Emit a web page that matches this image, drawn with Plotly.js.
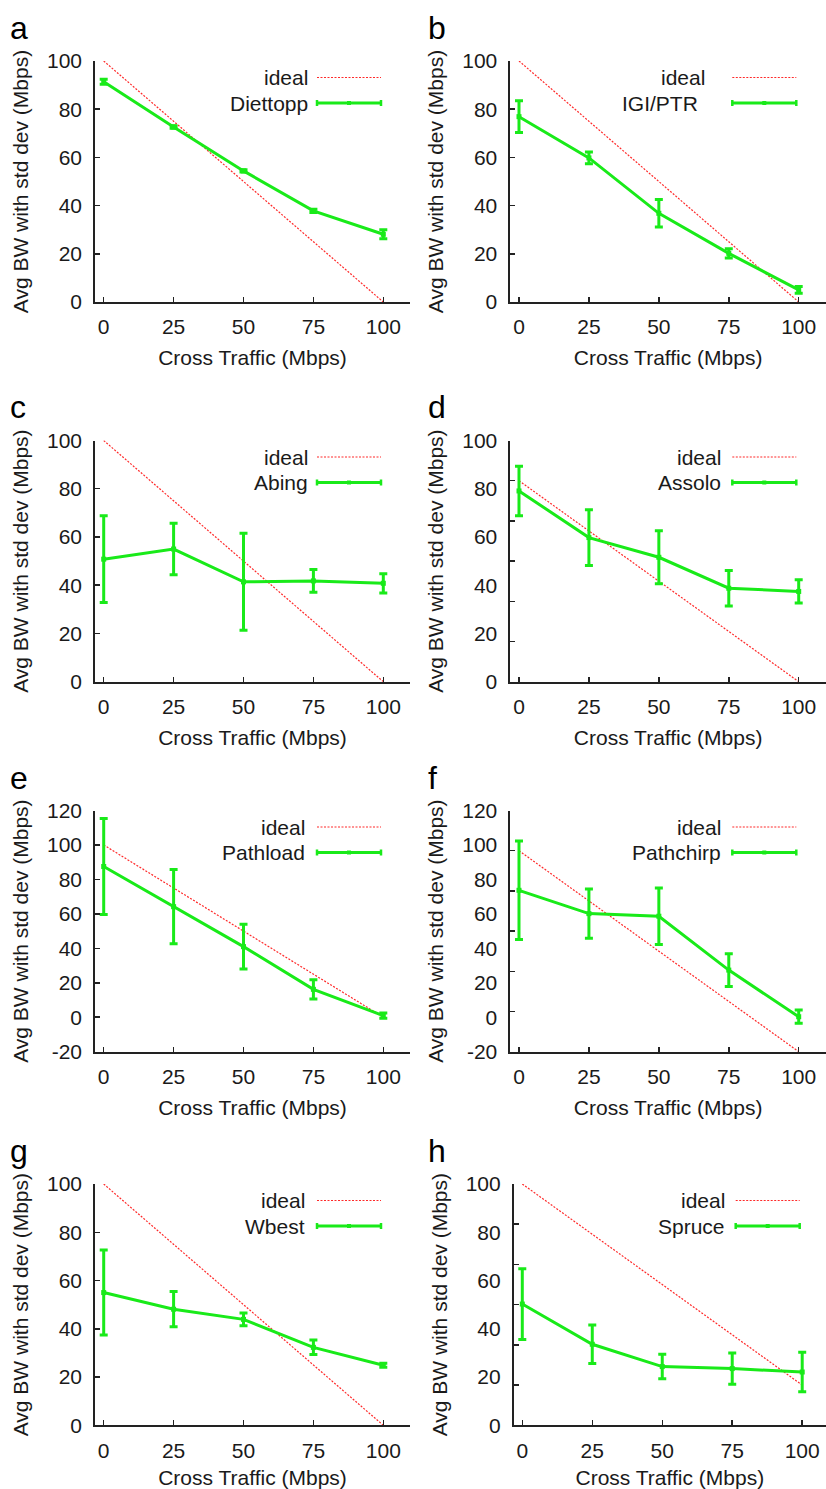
<!DOCTYPE html>
<html><head><meta charset="utf-8">
<script src="https://cdn.plot.ly/plotly-3.0.1.min.js"></script>
<style>html,body{margin:0;padding:0;background:#fff}#chart{width:826px;height:1489px}</style>
</head><body><div id="chart"></div>
<script>
// ---------------- data ----------------
const crossTraffic = [0, 25, 50, 75, 100];
const idealX = [0, 100];
const idealY = [100, 0];

const panelLetters = ['a', 'b', 'c', 'd', 'e', 'f', 'g', 'h'];
const toolNames = ['Diettopp', 'IGI/PTR', 'Abing', 'Assolo', 'Pathload', 'Pathchirp', 'Wbest', 'Spruce'];

const diettoppAvg = [91.4, 72.6, 54.4, 37.8, 28.1];
const diettoppStd = [1.0, 0.5, 0.5, 0.7, 1.9];
const igiptrAvg = [76.9, 59.8, 36.8, 20.2, 5.0];
const igiptrStd = [6.6, 2.4, 5.7, 1.9, 1.4];
const abingAvg = [50.8, 55.0, 41.4, 41.8, 40.8];
const abingStd = [18.0, 10.7, 20.1, 4.7, 4.0];
const assoloAvg = [94.9, 71.7, 61.9, 46.5, 44.9];
const assoloStd = [12.3, 13.9, 13.2, 8.8, 5.8];
const pathloadAvg = [87.5, 64.2, 41.0, 16.2, 0.9];
const pathloadStd = [27.8, 21.6, 13.0, 5.6, 1.5];
const pathchirpAvg = [80.3, 68.7, 67.4, 40.6, 17.4];
const pathchirpStd = [24.5, 12.3, 14.1, 8.1, 3.3];
const wbestAvg = [55.0, 48.1, 43.9, 32.3, 24.9];
const wbestStd = [17.6, 7.3, 2.6, 3.0, 0.8];
const spruceAvg = [40.3, 20.3, 9.2, 8.2, 6.5];
const spruceStd = [17.6, 9.6, 6.1, 7.8, 9.8];

const avgSeries = [diettoppAvg, igiptrAvg, abingAvg, assoloAvg, pathloadAvg, pathchirpAvg, wbestAvg, spruceAvg];
const stdSeries = [diettoppStd, igiptrStd, abingStd, assoloStd, pathloadStd, pathchirpStd, wbestStd, spruceStd];

// tick marks on the plotting axis
const yTicks0to100 = [0, 20, 40, 60, 80, 100];
const yTicks0to120 = [0, 20, 40, 60, 80, 100, 120];
const yTicksM20to100 = [-20, 0, 20, 40, 60, 80, 100];
const yTicksM20to120 = [-20, 0, 20, 40, 60, 80, 100, 120];
// printed tick labels
const yLabels0to100 = ['0', '20', '40', '60', '80', '100'];
const yLabelsM20to120 = ['-20', '0', '20', '40', '60', '80', '100', '120'];
const xTickLabels = ['0', '25', '50', '75', '100'];

const xTitle = 'Cross Traffic (Mbps)';
const yTitle = 'Avg BW with std dev (Mbps)';
const idealName = 'ideal';

// ---------------- layout config ----------------
const W = 826, H = 1489;
const FONT = '"Liberation Sans", Arial, Helvetica, sans-serif';
const FS = 21;
const TXT = '#1a1a1a';
const AX = '#222222';
const GREEN = '#19ea19';
const RED = '#ff2a2a';

const rowsPx = [[61, 302], [440.5, 681.7], [810.5, 1051.7], [1184, 1425.3]];
const colsPx = [[95, 410], [510.3, 826]];
const xRanges = [[-3.11, 109.55], [-3.11, 109.76]];

// per panel: plot-axis range, tick marks, label-axis range, label values/texts
const panelAxes = [
  {range: [0, 100], marks: yTicks0to100, lrange: [0, 100], lvals: yTicks0to100, ltext: yLabels0to100},
  {range: [0, 100], marks: yTicks0to100, lrange: [0, 100], lvals: yTicks0to100, ltext: yLabels0to100},
  {range: [0, 100], marks: yTicks0to100, lrange: [0, 100], lvals: yTicks0to100, ltext: yLabels0to100},
  {range: [0, 120], marks: yTicks0to120, lrange: [0, 100], lvals: yTicks0to100, ltext: yLabels0to100},
  {range: [-20, 120], marks: yTicksM20to120, lrange: [-20, 120], lvals: yTicksM20to120, ltext: yLabelsM20to120},
  {range: [0, 120], marks: yTicks0to120, lrange: [-20, 120], lvals: yTicksM20to120, ltext: yLabelsM20to120},
  {range: [0, 100], marks: yTicks0to100, lrange: [0, 100], lvals: yTicks0to100, ltext: yLabels0to100},
  {range: [-20, 100], marks: yTicksM20to100, lrange: [0, 100], lvals: yTicks0to100, ltext: yLabels0to100}
];
// legend text right edge (px from plot left) for [ideal, tool]
const keyTextRight = [[215, 215], [197, 190], [215, 215], [213, 213], [212, 212], [213, 213], [212, 212], [213, 213]];

const traces = [];
const layout = {
  width: W, height: H,
  margin: {l: 0, r: 0, t: 0, b: 0},
  paper_bgcolor: '#fff', plot_bgcolor: '#fff',
  showlegend: false,
  font: {family: FONT, size: FS, color: TXT},
  shapes: [], annotations: []
};

for (let i = 0; i < 8; i++) {
  const n = i + 1, ln = i + 9;
  const col = i % 2, row = Math.floor(i / 2);
  let [x0, x1] = colsPx[col];
  let xr = xRanges[col].slice();
  if (i === 7) { x0 = 513.7; xr = [-3.07, 108.5]; }
  const [y0, y1] = rowsPx[row];
  const pw = x1 - x0, ph = y1 - y0;
  const xd = [x0 / W, Math.min(1, x1 / W)];
  const yd = [1 - y1 / H, 1 - y0 / H];
  const pa = panelAxes[i];

  layout['xaxis' + n] = {
    domain: xd, range: xr, anchor: 'y' + n,
    tickvals: crossTraffic, ticktext: xTickLabels,
    ticks: 'inside', ticklen: 5, tickwidth: 1.5, tickcolor: AX,
    showline: true, linecolor: AX, linewidth: 2,
    showgrid: false, zeroline: false, fixedrange: true,
    tickfont: {size: FS, color: TXT}, ticklabelstandoff: 5,
    title: {text: xTitle, font: {size: FS, color: TXT}, standoff: 13}
  };
  layout['yaxis' + n] = {
    domain: yd, range: pa.range, anchor: 'x' + n,
    tickvals: pa.marks, showticklabels: false,
    ticks: 'inside', ticklen: 5, tickwidth: 1.5, tickcolor: AX,
    showline: true, linecolor: AX, linewidth: 2,
    showgrid: false, zeroline: false, fixedrange: true
  };
  layout['yaxis' + ln] = {
    overlaying: 'y' + n, anchor: 'x' + n, side: 'left',
    range: pa.lrange, tickvals: pa.lvals, ticktext: pa.ltext,
    ticks: '', showline: false, showgrid: false, zeroline: false, fixedrange: true,
    tickfont: {size: FS, color: TXT}, ticklabelstandoff: 12,
    title: {text: yTitle, font: {size: FS, color: TXT}, standoff: 12}
  };

  traces.push({
    x: idealX, y: idealY, xaxis: 'x' + n, yaxis: 'y' + n,
    type: 'scatter', mode: 'lines', name: idealName,
    line: {color: RED, width: 1.2, dash: '2px,1.5px'}, hoverinfo: 'skip', cliponaxis: false
  });
  traces.push({
    x: crossTraffic, y: avgSeries[i], xaxis: 'x' + n, yaxis: 'y' + n,
    type: 'scatter', mode: 'lines+markers', name: toolNames[i],
    line: {color: GREEN, width: 3},
    marker: {color: GREEN, size: 5, symbol: 'square'},
    error_y: {type: 'data', array: stdSeries[i], visible: true, color: GREEN, thickness: 3, width: 4},
    cliponaxis: false
  });
  traces.push({x: [], y: [], xaxis: 'x' + n, yaxis: 'y' + ln, type: 'scatter', mode: 'markers', hoverinfo: 'skip'});

  // key (legend) drawn inside each panel
  const xref = 'x' + n + ' domain', yref = 'y' + n + ' domain';
  const fx = p => p / pw, fy = p => 1 - p / ph;
  const r1 = 16.5, r2 = 42, s0 = 222, s1 = 286;
  layout.shapes.push({type: 'line', xref, yref, x0: fx(s0), x1: fx(s1), y0: fy(r1), y1: fy(r1),
    line: {color: RED, width: 1.2, dash: '2px,1.5px'}});
  layout.shapes.push({type: 'line', xref, yref, x0: fx(s0), x1: fx(s1), y0: fy(r2), y1: fy(r2),
    line: {color: GREEN, width: 3}});
  [s0, s1].forEach(s => layout.shapes.push({type: 'line', xref, yref, x0: fx(s), x1: fx(s), y0: fy(r2 - 3), y1: fy(r2 + 3),
    line: {color: GREEN, width: 2.5}}));
  layout.shapes.push({type: 'rect', xref, yref, x0: fx((s0 + s1) / 2 - 2), x1: fx((s0 + s1) / 2 + 2), y0: fy(r2 - 2), y1: fy(r2 + 2),
    line: {width: 0}, fillcolor: GREEN});
  layout.annotations.push({xref, yref, x: fx(keyTextRight[i][0]), y: fy(r1), xanchor: 'right', yanchor: 'middle',
    text: idealName, showarrow: false, font: {size: FS, color: TXT}});
  layout.annotations.push({xref, yref, x: fx(keyTextRight[i][1]), y: fy(r2), xanchor: 'right', yanchor: 'middle',
    text: toolNames[i], showarrow: false, font: {size: FS, color: TXT}});

  // panel letter
  layout.annotations.push({xref: 'paper', yref: 'paper', x: (col === 0 ? 8 : 426) / W, y: 1 - (y0 - 33) / H,
    xanchor: 'left', yanchor: 'middle', text: panelLetters[i], showarrow: false, font: {size: 32, color: '#000'}});
}

Plotly.newPlot('chart', traces, layout, {staticPlot: true, displayModeBar: false});
</script>
</body></html>
